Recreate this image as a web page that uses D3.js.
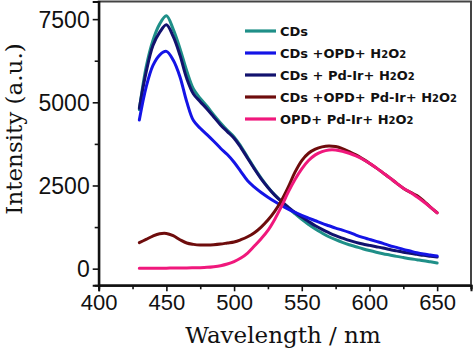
<!DOCTYPE html>
<html><head><meta charset="utf-8">
<script src="https://cdn.jsdelivr.net/npm/d3@7"></script>
<style>
html,body{margin:0;padding:0;background:#fff;}
svg{display:block;}
</style></head>
<body>
<svg id="chart" width="474" height="354"></svg>
<script>
// ---- data ----
const wavelength = [430,435,440,445,450,455,460,465,470,475,480,485,490,495,500,505,510,515,520,525,530,535,540,545,550,555,560,565,570,575,580,585,590,595,600,605,610,615,620,625,630,635,640,645,650];

const cds = [4780,6050,6850,7350,7600,7200,6620,5950,5400,5120,4880,4620,4380,4160,3960,3680,3350,3020,2720,2450,2220,2020,1830,1650,1480,1330,1190,1070,960,870,790,720,660,600,545,495,450,410,370,335,300,270,240,205,170];

const cdsOpdH2o2 = [4470,5450,6100,6420,6530,6270,5770,5020,4450,4220,4030,3830,3620,3430,3200,2920,2640,2450,2290,2150,2020,1900,1790,1690,1600,1520,1440,1360,1290,1220,1160,1090,1010,940,880,820,760,690,640,580,530,480,440,410,380];

const cdsPdIrH2o2 = [4820,5900,6700,7100,7330,6980,6420,5720,5250,5020,4800,4560,4320,4120,3920,3640,3320,3000,2700,2440,2210,2020,1850,1690,1550,1420,1290,1180,1080,990,920,850,790,740,700,660,620,575,535,495,460,430,400,375,350];

const cdsOpdPdIrH2o2 = [780,880,980,1050,1060,990,870,770,730,710,710,720,740,770,800,870,960,1080,1250,1460,1720,2050,2450,2900,3250,3470,3590,3660,3690,3670,3610,3520,3420,3300,3170,3030,2880,2730,2570,2420,2300,2200,2040,1850,1680];

const opdPdIrH2o2 = [10,10,12,15,15,18,20,22,25,30,40,60,90,140,215,320,470,680,900,1150,1480,1870,2300,2680,3000,3250,3420,3520,3570,3570,3530,3470,3390,3290,3170,3030,2880,2730,2570,2420,2300,2160,2010,1850,1680];

const seriesNames = ["CDs", "CDs +OPD+ H2O2", "CDs + Pd-Ir+ H2O2", "CDs +OPD+ Pd-Ir+ H2O2", "OPD+ Pd-Ir+ H2O2"];
const seriesColors = ["#1f8f88", "#1414e6", "#12126e", "#6e0c0c", "#f0187c"];
const seriesValues = [cds, cdsOpdH2o2, cdsPdIrH2o2, cdsOpdPdIrH2o2, opdPdIrH2o2];

const xTicks = [400,450,500,550,600,650];
const xMinor = [425,475,525,575,625,675];
const yTicks = [0,2500,5000,7500];
const yMinor = [1250,3750,6250];

// ---- layout ----
const W = 474, H = 354;
const m = {left: 98.7, right: 3, top: 1.5, bottom: 68.7};
const svg = d3.select("#chart");

const x = d3.scaleLinear().domain([400, 675]).range([m.left, W - m.right]);
const y = d3.scaleLinear().domain([-500, 8030]).range([H - m.bottom, m.top]);

// frame (top & right)
svg.append("rect")
  .attr("x", m.left).attr("y", m.top)
  .attr("width", W - m.right - m.left).attr("height", H - m.bottom - m.top)
  .attr("fill", "none").attr("stroke", "#444").attr("stroke-width", 2);

// axes
const tickFont = "'Liberation Sans', Arial, sans-serif";
const xAxis = svg.append("g").attr("transform", `translate(0,${H - m.bottom})`)
  .call(d3.axisBottom(x).tickValues(xTicks).tickSize(6).tickPadding(3).tickFormat(d3.format("d")));
const xAxisMinor = svg.append("g").attr("transform", `translate(0,${H - m.bottom})`)
  .call(d3.axisBottom(x).tickValues(xMinor).tickSize(4).tickFormat(""));
const yAxis = svg.append("g").attr("transform", `translate(${m.left},0)`)
  .call(d3.axisLeft(y).tickValues(yTicks).tickSize(6).tickPadding(3).tickFormat(d3.format("d")));
const yAxisMinor = svg.append("g").attr("transform", `translate(${m.left},0)`)
  .call(d3.axisLeft(y).tickValues(yMinor).tickSize(4).tickFormat(""));

[xAxis, xAxisMinor, yAxis, yAxisMinor].forEach(g => {
  g.select(".domain").attr("stroke", "#111").attr("stroke-width", 2);
  g.selectAll(".tick line").attr("stroke", "#111").attr("stroke-width", 1.6);
  g.selectAll(".tick text").attr("fill", "#111").style("font-family", tickFont);
});
xAxis.selectAll(".tick text").style("font-size", "22px").attr("dy", "0.72em");
yAxis.selectAll(".tick text").style("font-size", "23px").attr("dy", "0.36em");

// lines
const line = d3.line().x((d, i) => x(wavelength[i])).y(d => y(d)).curve(d3.curveCatmullRom.alpha(0.5));
const drawOrder = [0, 2, 1, 3, 4];
drawOrder.forEach(k => {
  svg.append("path").datum(seriesValues[k])
    .attr("d", line)
    .attr("fill", "none")
    .attr("stroke", seriesColors[k])
    .attr("stroke-width", 3)
    .attr("stroke-linejoin", "round")
    .attr("stroke-linecap", "round");
});

// legend
const legend = svg.append("g");
const legY0 = 31, legDy = 22;
seriesNames.forEach((name, i) => {
  const yy = legY0 + i * legDy;
  legend.append("line")
    .attr("x1", 245).attr("x2", 276).attr("y1", yy).attr("y2", yy)
    .attr("stroke", seriesColors[i]).attr("stroke-width", 3.2);
  const t = legend.append("text")
    .attr("x", 280).attr("y", yy).attr("dy", "0.36em")
    .style("font-family", "'DejaVu Sans', sans-serif")
    .style("font-weight", "bold").style("font-size", "13px").attr("fill", "#111");
  // render "2" in H2O2 smaller, as in the reference
  const parts = name.split(/(H2O2)/);
  parts.forEach(p => {
    if (p === "H2O2") {
      t.append("tspan").text("H");
      t.append("tspan").text("2").style("font-size", "10px");
      t.append("tspan").text("O");
      t.append("tspan").text("2").style("font-size", "10px");
    } else if (p.length) {
      t.append("tspan").text(p);
    }
  });
});

// axis titles
const titleFont = "'DejaVu Serif', 'Liberation Serif', serif";
svg.append("text")
  .attr("x", 283).attr("y", 343)
  .attr("text-anchor", "middle")
  .style("font-family", titleFont).style("font-size", "23px").attr("fill", "#111")
  .text("Wavelength / nm");
svg.append("text")
  .attr("transform", "translate(22,129) rotate(-90)")
  .attr("text-anchor", "middle")
  .style("font-family", titleFont).style("font-size", "23px").attr("fill", "#111")
  .text("Intensity (a.u.)");
</script>
</body></html>
